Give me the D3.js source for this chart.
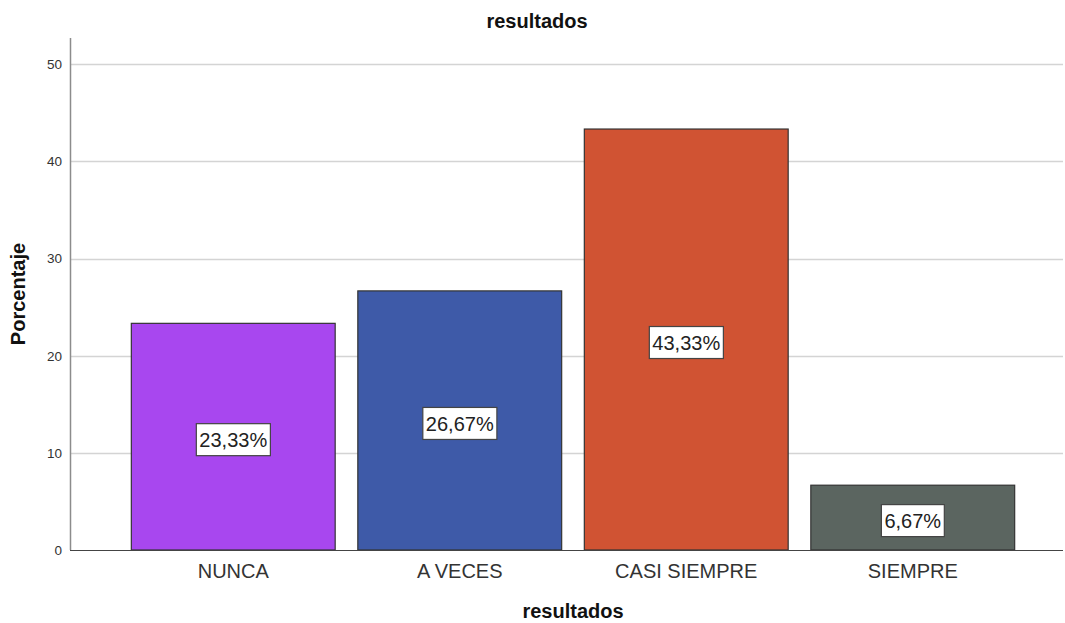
<!DOCTYPE html>
<html>
<head>
<meta charset="utf-8">
<script src="https://cdn.jsdelivr.net/npm/d3@7"></script>
<style>
  html, body { margin: 0; padding: 0; background: #fff; }
  svg { display: block; font-family: "Liberation Sans", Arial, sans-serif; }
</style>
</head>
<body>
<svg id="chart" width="1065" height="623"></svg>
<script>
// Frequency chart: percentage of answers per category
const categories = ["NUNCA", "A VECES", "CASI SIEMPRE", "SIEMPRE"];
const percentages = [23.33, 26.67, 43.33, 6.67];
const barColors = ["#a847ef", "#3e5aa8", "#d05333", "#5b6560"];
const yTicks = [0, 10, 20, 30, 40, 50];

const svg = d3.select("#chart");
const plot = { left: 70, right: 1063, top: 38, bottom: 550 };

const x = d3.scaleBand()
  .domain(categories)
  .range([120, 1026])
  .paddingInner(0.1)
  .paddingOuter(0.05);

const y = d3.scaleLinear()
  .domain([0, 52.7])
  .range([plot.bottom, plot.top]);

// Horizontal gridlines
svg.append("g")
  .selectAll("line")
  .data(yTicks.filter(d => d > 0))
  .join("line")
  .attr("x1", plot.left)
  .attr("x2", plot.right)
  .attr("y1", d => Math.round(y(d)) + 0.5)
  .attr("y2", d => Math.round(y(d)) + 0.5)
  .attr("stroke", "#d4d4d4")
  .attr("stroke-width", 1.5);

// Y axis
const yAxis = svg.append("g")
  .attr("transform", `translate(${plot.left},0)`)
  .call(d3.axisLeft(y).tickValues(yTicks).tickSize(0).tickPadding(8));
yAxis.select(".domain").remove();
yAxis.selectAll("text")
  .attr("font-size", 13.5)
  .attr("fill", "#333")
  .attr("font-family", "Liberation Sans, Arial, sans-serif");
svg.append("line")
  .attr("x1", plot.left + 0.5).attr("x2", plot.left + 0.5)
  .attr("y1", plot.top).attr("y2", plot.bottom)
  .attr("stroke", "#8c8c8c").attr("stroke-width", 1.5);

// Bars
svg.append("g")
  .selectAll("rect")
  .data(categories)
  .join("rect")
  .attr("x", d => x(d))
  .attr("y", (d, i) => y(percentages[i]))
  .attr("width", x.bandwidth())
  .attr("height", (d, i) => y(0) - y(percentages[i]))
  .attr("fill", (d, i) => barColors[i])
  .attr("stroke", "#333")
  .attr("stroke-width", 1.2);

// X baseline
svg.append("line")
  .attr("x1", plot.left).attr("x2", plot.right)
  .attr("y1", plot.bottom + 0.5).attr("y2", plot.bottom + 0.5)
  .attr("stroke", "#444").attr("stroke-width", 1.2);

// Value labels in boxes at the middle of each bar
const fmt = v => v.toFixed(2).replace(".", ",") + "%";
const labels = svg.append("g")
  .selectAll("g")
  .data(categories)
  .join("g")
  .attr("transform", (d, i) => {
    const cx = x(d) + x.bandwidth() / 2;
    const cy = (y(percentages[i]) + y(0)) / 2 + 3;
    return `translate(${cx},${cy})`;
  });
labels.append("text")
  .attr("text-anchor", "middle")
  .attr("dy", "0.36em")
  .attr("font-size", 20)
  .attr("fill", "#222")
  .text((d, i) => fmt(percentages[i]))
  .each(function () {
    const b = this.getBBox();
    d3.select(this.parentNode).insert("rect", "text")
      .attr("x", b.x - 3)
      .attr("y", -16)
      .attr("width", b.width + 6)
      .attr("height", 32)
      .attr("fill", "#fff")
      .attr("stroke", "#444")
      .attr("stroke-width", 1.2);
  });

// Category labels
svg.append("g")
  .selectAll("text")
  .data(categories)
  .join("text")
  .attr("x", d => x(d) + x.bandwidth() / 2)
  .attr("y", 578)
  .attr("text-anchor", "middle")
  .attr("font-size", 20)
  .attr("fill", "#333")
  .text(d => d);

// Titles
svg.append("text")
  .attr("x", 537).attr("y", 28)
  .attr("text-anchor", "middle")
  .attr("font-size", 20).attr("font-weight", "bold")
  .attr("fill", "#111")
  .text("resultados");

svg.append("text")
  .attr("x", 573).attr("y", 618)
  .attr("text-anchor", "middle")
  .attr("font-size", 20).attr("font-weight", "bold")
  .attr("fill", "#111")
  .text("resultados");

svg.append("text")
  .attr("transform", "translate(25,294) rotate(-90)")
  .attr("text-anchor", "middle")
  .attr("font-size", 20).attr("font-weight", "bold")
  .attr("fill", "#111")
  .text("Porcentaje");
</script>
</body>
</html>
